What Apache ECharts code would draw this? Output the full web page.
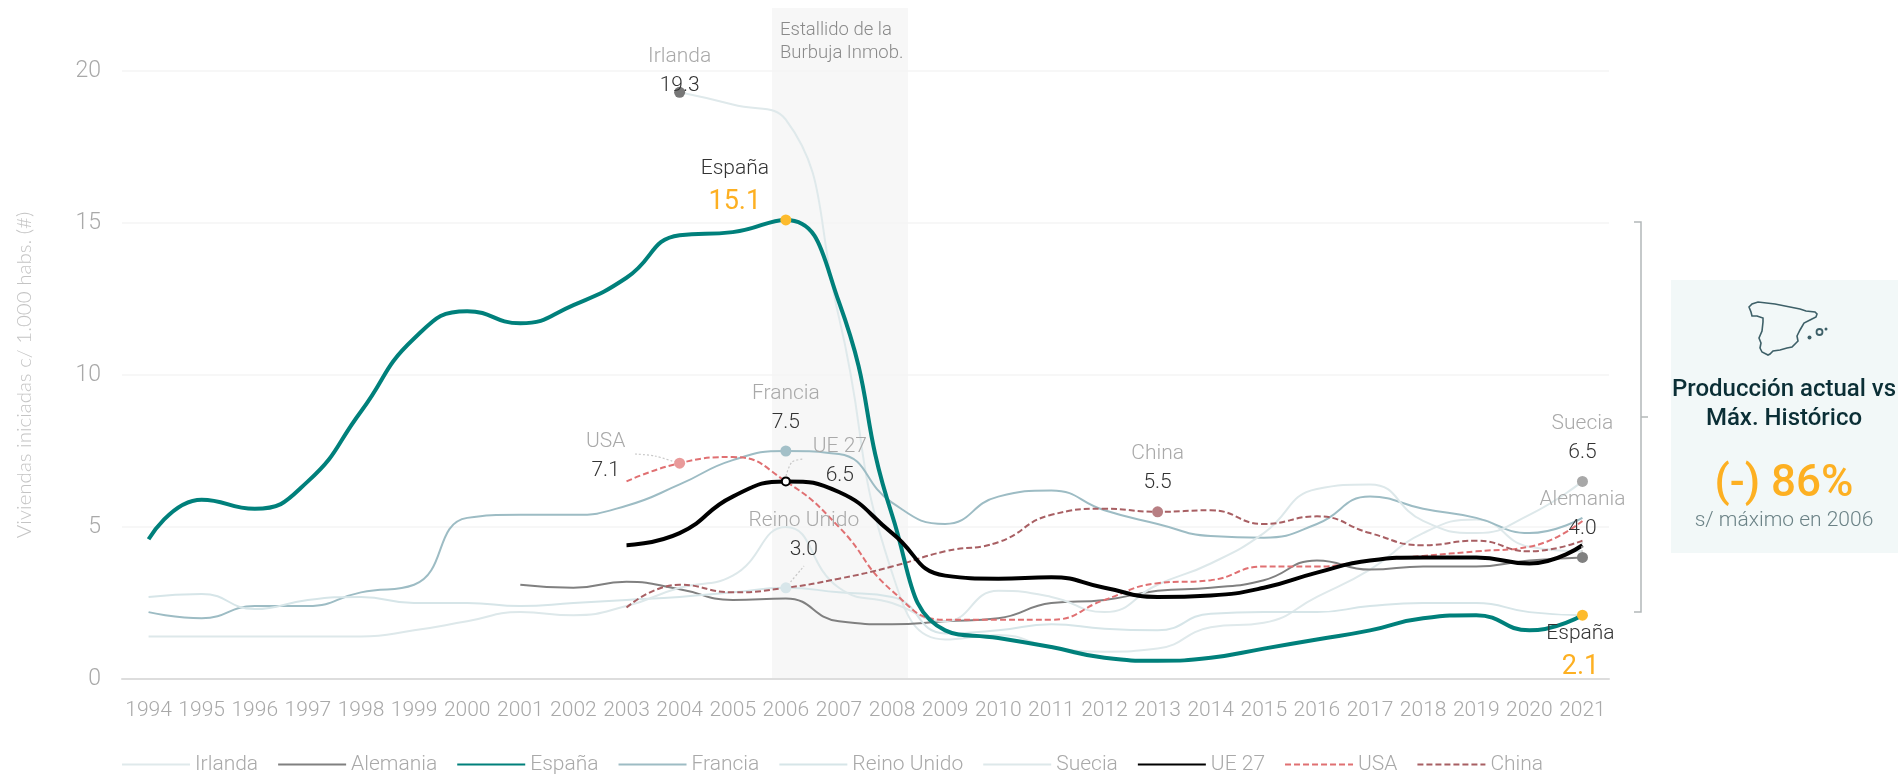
<!DOCTYPE html>
<html>
<head>
<meta charset="utf-8">
<title>Viviendas iniciadas</title>
<script src="https://cdn.jsdelivr.net/npm/echarts@6/dist/echarts.min.js"></script>
<style>
html,body{margin:0;padding:0;background:#fff;overflow:hidden}
#container{width:1898px;height:774px}
</style>
</head>
<body>
<div id="container"></div>
<script>
var years = ['1994','1995','1996','1997','1998','1999','2000','2001','2002','2003','2004','2005','2006','2007','2008','2009','2010','2011','2012','2013','2014','2015','2016','2017','2018','2019','2020','2021'];

var irlanda = [null,null,null,null,null,null,null,null,null,null,19.3,18.9,18.4,11.9,3.5,1.3,1.45,1.05,0.9,1.0,1.7,1.85,2.7,3.6,4.8,5.25,4.35,4.2];
var alemania = [null,null,null,null,null,null,null,3.1,3.0,3.2,2.95,2.6,2.65,1.9,1.8,1.9,2.0,2.5,2.6,2.9,3.0,3.25,3.9,3.6,3.7,3.7,3.9,4.0];
var espana = [4.6,5.9,5.6,6.5,8.8,11.2,12.1,11.7,12.3,13.2,14.6,14.7,15.1,12.4,5.4,1.6,1.35,1.05,0.7,0.6,0.7,1.0,1.3,1.6,2.0,2.1,1.6,2.1];
var francia = [2.2,2.0,2.4,2.4,2.85,3.1,5.3,5.4,5.4,5.7,6.4,7.2,7.5,7.4,5.8,5.1,6.0,6.2,5.55,5.1,4.7,4.65,5.1,6.0,5.6,5.3,4.8,5.3];
var reinoUnido = [2.7,2.8,2.3,2.6,2.7,2.5,2.5,2.4,2.5,2.6,2.7,2.85,3.0,2.85,2.7,1.5,1.6,1.8,1.65,1.6,2.15,2.2,2.2,2.4,2.5,2.5,2.2,2.1];
var suecia = [1.4,1.4,1.4,1.4,1.4,1.6,1.9,2.2,2.1,2.4,3.0,3.4,5.0,3.0,2.5,1.9,2.9,2.7,2.2,3.1,3.8,4.8,6.25,6.4,5.2,4.8,5.4,6.5];
var ue27 = [null,null,null,null,null,null,null,null,null,4.4,4.8,6.0,6.5,6.15,4.8,3.4,3.3,3.35,3.0,2.7,2.75,3.0,3.5,3.9,4.0,4.0,3.8,4.4];
var usa = [null,null,null,null,null,null,null,null,null,6.5,7.1,7.3,6.5,5.0,2.9,1.95,1.95,1.95,2.6,3.15,3.25,3.7,3.7,3.9,4.05,4.2,4.35,5.2];
var china = [null,null,null,null,null,null,null,null,null,2.35,3.1,2.85,3.0,3.3,3.7,4.2,4.5,5.4,5.6,5.5,5.55,5.1,5.35,4.8,4.4,4.55,4.2,4.55];

var font = 'Roboto';
var greyText = '#a9a9a9';
var orange = '#fdb022';

var dom = document.getElementById('container');
var myChart = echarts.init(dom);

// one annotated dot: name above value, dx/dy shift the text from the dot
function mark(name, arr, year, color, dx, dy, highlight, size, border) {
    return {
        name: name,
        coord: [year, arr[years.indexOf(year)]],
        symbol: 'circle',
        symbolSize: size || 11,
        itemStyle: {color: color, borderColor: border || color, borderWidth: border ? 2 : 0},
        label: {
            show: true,
            position: 'top',
            distance: 0,
            offset: [dx, dy],
            align: 'center',
            formatter: '{' + (highlight ? 'd' : 'n') + '|' + name + '}\n{' + (highlight ? 'o' : 'v') + '|' + arr[years.indexOf(year)].toFixed(1) + '}',
            rich: {
                n: {fontFamily: font, fontWeight: 300, fontSize: 21, lineHeight: 29, color: greyText, align: 'center'},
                d: {fontFamily: font, fontWeight: 300, fontSize: 21, lineHeight: 29, color: '#333', align: 'center'},
                v: {fontFamily: font, fontWeight: 300, fontSize: 21, lineHeight: 29, color: '#333', align: 'center'},
                o: {fontFamily: font, fontWeight: 400, fontSize: 27, lineHeight: 37, color: orange, align: 'center'}
            }
        }
    };
}

function line(name, data, color, width, dashed, marks) {
    return {
        name: name,
        type: 'line',
        data: data,
        smooth: 0.5,
        symbol: 'none',
        showSymbol: false,
        animation: false,
        lineStyle: {color: color, width: width, type: dashed ? [6, 3] : 'solid'},
        itemStyle: {color: color},
        z: width > 3 ? 4 : 3,
        markPoint: marks ? {animation: false, silent: true, data: marks} : undefined
    };
}

function spainMap() {
    var pts = [[1749,307],[1752,304],[1758,302],[1775,304],[1790,307],[1800,309],[1806,311],[1815,312],[1817,314],[1816,317],[1810,320],[1804,323],[1800,330],[1797,336],[1798,341],[1792,347],[1787,348],[1780,350],[1773,351],[1770,354],[1768,355],[1762,352],[1760,348],[1761,343],[1759,338],[1762,331],[1763,322],[1763,318],[1757,316],[1752,316],[1751,312]];
    return [
        {type: 'polygon', shape: {points: pts}, style: {fill: 'none', stroke: '#3e6068', lineWidth: 1.6}, z: 5},
        {type: 'circle', shape: {cx: 1809.5, cy: 337.5, r: 2}, style: {fill: '#3e6068'}, z: 5},
        {type: 'circle', shape: {cx: 1819.5, cy: 332, r: 3}, style: {fill: 'none', stroke: '#3e6068', lineWidth: 1.8}, z: 5},
        {type: 'circle', shape: {cx: 1826, cy: 329, r: 1.5}, style: {fill: '#3e6068'}, z: 5}
    ];
}

function leader(points) {
    return {type: 'polyline', shape: {points: points, smooth: 0.3}, style: {fill: 'none', stroke: '#c8c8c8', lineWidth: 1.2, lineDash: [2, 2]}, z: 5};
}

function panelText(text, y, size, weight, color) {
    return {type: 'text', x: 1784, y: y, style: {text: text, fontFamily: font, fontSize: size, fontWeight: weight, fill: color, textAlign: 'center', textVerticalAlign: 'middle'}, z: 6};
}

var option = {
    backgroundColor: '#fff',
    animation: false,
    textStyle: {fontFamily: font},
    grid: {left: 122, right: 289, top: 71, bottom: 95, containLabel: false},
    legend: {
        left: 121,
        top: 754,
        padding: 0,
        itemWidth: 68,
        itemHeight: 20,
        itemGap: 19,
        itemStyle: {opacity: 0, color: 'transparent'},
        textStyle: {fontFamily: font, fontWeight: 300, fontSize: 21, color: greyText},
        data: ['Irlanda','Alemania','España','Francia','Reino Unido','Suecia','UE 27','USA','China']
    },
    xAxis: {
        type: 'category',
        data: years,
        boundaryGap: true,
        axisTick: {show: false},
        axisLine: {lineStyle: {color: '#dddddd', width: 2}},
        axisLabel: {interval: 0, margin: 21, fontFamily: font, fontWeight: 300, fontSize: 21, color: greyText}
    },
    yAxis: {
        type: 'value',
        min: 0,
        max: 20,
        interval: 5,
        name: 'Viviendas iniciadas c/ 1.000 habs. (#)',
        nameLocation: 'middle',
        nameGap: 87,
        nameRotate: 90,
        nameTextStyle: {fontFamily: 'Lato', fontWeight: 300, fontSize: 20.5, color: '#c4c4c4'},
        axisLine: {show: false},
        axisTick: {show: false},
        axisLabel: {margin: 21, fontFamily: font, fontWeight: 300, fontSize: 23, color: greyText},
        splitLine: {lineStyle: {color: '#f4f4f4', width: 1.5}}
    },
    graphic: [
        {type: 'rect', shape: {x: 772, y: 8, width: 136, height: 670}, style: {fill: '#f7f7f7'}, z: -1},
        {type: 'text', x: 780, y: 30, style: {text: 'Estallido de la', fontFamily: font, fontWeight: 300, fontSize: 18.5, fill: '#8a8a8a', textVerticalAlign: 'middle'}, z: 6},
        {type: 'text', x: 780, y: 53, style: {text: 'Burbuja Inmob.', fontFamily: font, fontWeight: 300, fontSize: 18.5, fill: '#8a8a8a', textVerticalAlign: 'middle'}, z: 6},
        leader([[635,454],[655,456],[675,462]]),
        leader([[786,476],[792,462],[804,459]]),
        leader([[788,585],[804,566]]),
        leader([[1582,542],[1582,552]]),
        {type: 'polyline', shape: {points: [[1634,222],[1641,222],[1641,612],[1634,612]]}, style: {fill: 'none', stroke: '#b3b8b9', lineWidth: 1.5}, z: 5},
        {type: 'line', shape: {x1: 1641, y1: 417, x2: 1648, y2: 417}, style: {stroke: '#b3b8b9', lineWidth: 1.5}, z: 5},
        {type: 'rect', shape: {x: 1671, y: 280, width: 227, height: 273}, style: {fill: '#f2f8f8'}, z: 1}
    ].concat(spainMap(), [
        panelText('Producción actual vs', 390, 24, 500, '#0b2f36'),
        panelText('Máx. Histórico', 419, 24, 500, '#0b2f36'),
        panelText('(-) 86%', 485, 44, 500, orange),
        panelText('s/ máximo en 2006', 521, 21, 300, '#6b8286')
    ]),
    series: [
        line('Irlanda', irlanda, '#dfe9eb', 2, false, [mark('Irlanda', irlanda, '2004', '#777777', 0, 13)]),
        line('Alemania', alemania, '#808080', 2, false, [mark('Alemania', alemania, '2021', '#808080', 0, -9)]),
        line('España', espana, '#00807b', 4, false, [
            mark('España', espana, '2006', '#fdbb2d', -51, 6, true),
            mark('España', espana, '2021', '#fdbb2d', -2, 76, true)
        ]),
        line('Francia', francia, '#9dbcc4', 2, false, [mark('Francia', francia, '2006', '#a3c0c8', 0, -8)]),
        line('Reino Unido', reinoUnido, '#d6e5e8', 2, false, [mark('Reino Unido', reinoUnido, '2006', '#d8e6ea', 18, -18)]),
        line('Suecia', suecia, '#dde8ea', 2, false, [mark('Suecia', suecia, '2021', '#a8a8a8', 0, -9)]),
        line('UE 27', ue27, '#000000', 4, false, [mark('UE 27', ue27, '2006', '#ffffff', 54, 14, false, 8, '#000000')]),
        line('USA', usa, '#e07072', 2, true, [mark('USA', usa, '2004', '#e99a9a', -74, 28)]),
        line('China', china, '#a85f63', 2, true, [mark('China', china, '2013', '#b87f83', 0, -9)])
    ]
};

myChart.setOption(option, true);
</script>
</body>
</html>
